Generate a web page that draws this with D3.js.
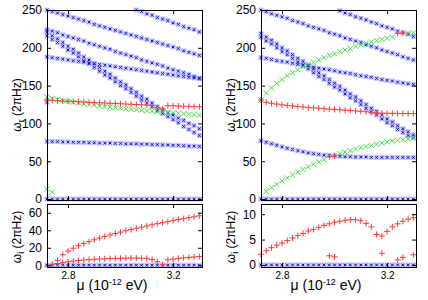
<!DOCTYPE html>
<html>
<head>
<meta charset="utf-8">
<script src="https://cdn.jsdelivr.net/npm/d3@7"></script>
<style>
  body { margin: 0; background: #fff; }
  svg { display: block; }
  text { font-family: "Liberation Sans", Arial, sans-serif; fill: #000; }
</style>
</head>
<body>
<div id="chart"></div>
<script>
// mu grid (10^-12 eV)
const mu = [2.72, 2.74, 2.76, 2.78, 2.80, 2.82, 2.84, 2.86, 2.88, 2.90, 2.92, 2.94, 2.96, 2.98, 3.00,
  3.02, 3.04, 3.06, 3.08, 3.10, 3.12, 3.14, 3.16, 3.18, 3.20, 3.22, 3.24, 3.26, 3.28, 3.30];
const _ = null;

// left panel, real part
const leftZero = [0,0,0,0,0,0,0,0,0,0,0,0,0,0,0,0,0,0,0,0,0,0,0,0,0,0,0,0,0,0];
const leftBlue1 = [250,248,246,244,242,240,238,236,234,231,229,227,225,223,221,219,217,215,213,211,209,207,205,203,201,199,196,194,192,190];
const leftBlue2 = [_,_,_,_,_,_,_,_,_,_,_,_,_,_,_,_,_,250,248,245,243,240,238,236,233,231,228,226,224,221];
const leftBlue3 = [224,222,220,217,215,213,211,209,206,204,202,200,198,195,193,191,189,187,184,182,180,178,176,173,171,169,167,165,162,160];
const leftBlue4 = [221,216,212,207,202,198,193,188,184,179,174,169,165,160,155,151,146,141,136,132,127,122,118,114,111,107,104,100,97,93];
const leftBlue5 = [216,211,207,202,197,193,188,183,179,174,169,164,160,155,150,146,141,136,131,127,122,117,113,109,105,101,96,92,88,84];
const leftBlue6 = [188,187,186,185,184,183,182,181,180,179,178,177,176,175,174,173,172,171,170,169,168,167,166,165,164,163,162,161,160,159];
const leftBlue7 = [76,76,76,75.5,75.5,75,75,75,74.5,74.5,74,74,74,73.5,73.5,73,73,73,72.5,72.5,72,72,71.5,71.5,71,71,70.5,70,70,69.5];
const leftBlue8 = [128];
const leftRedRe = [131,130.5,130,129.7,129.3,129,128.6,128.3,128,127.6,127.3,127,126.6,126.3,126,125.6,125.3,125,124.6,124.2,123.5,121,119,123.5,123.3,123,122.8,122.5,122.3,122];
const leftGreenRe = [135,133,131.5,130,129,128,127,126,125,124,123,122.2,121.5,120.8,120,119.3,118.6,118,117.4,116.8,116.2,115.6,115,114.5,114,113.3,112.7,112,111.5,111];
const leftGreenLow = [13,9];

// left panel, imaginary part
const leftRedIm1 = [_,_,5.4,12,16.2,19.5,22.3,24.8,27,29.1,31.1,32.9,34.6,36.3,37.9,39.4,40.8,42.2,43.6,44.9,46.2,47.5,48.7,49.9,51,52.2,53.3,54.4,55.4,56.5];
const leftRedIm2 = [_,1,2,3,4,4.8,5.4,6,6.4,6.8,7.1,7.4,7.6,7.8,8,8.1,8.2,8.2,8.1,7.8,6.5,4,0.5,6.3,7,7.8,8.4,9,9.5,10];

// right panel, real part
const rightBlue1 = [250,248,245,243,241,239,236,234,232,229,227,225,223,220,218,216,213,211,209,207,204,202,200,197,195,193,191,188,186,184];
const rightBlue2 = [_,_,_,_,_,_,_,_,_,_,_,_,_,_,_,249,246,244,241,239,237,234,232,229,227,225,222,220,218,215];
const rightBlue3 = [187,186,184.5,183,182,181,179.5,178,177,176,174.5,173,172,171,169.5,168,167,166,164.5,163,162,161,159.5,158,157,156,154.5,153.5,152.5,151.5];
const rightBlue4 = [219,214,210,205,200,196,191,186,182,177,172,167,163,158,153,149,144,139,135,130,125,120,116,111,106,102,97,93,89,85];
const rightBlue5 = [214,209,205,200,195,191,186,181,177,172,167,162,158,153,148,144,139,134,130,125,120,115,111,106,101,97,92,88,84,81];
const rightBlue6 = [77,75,73,71,69,67,65.5,64,62.5,61,60,59,58,57.5,57,56.5,56,56,55.5,55.5,55.5,55,55,55,55,55,55,55,55,55];
const rightRedRe = [131,128,126.5,125.5,124.5,123.7,123,122.3,121.7,121,120.5,120,119.4,118.9,118.4,118,117.5,117,116.5,116,115.5,114.5,113.5,113.5,113.5,113.3,113.2,113.1,113,113];
const rightRedRe2 = [_,_,_,_,_,_,_,_,_,_,_,_,_,56,57,_,_,_,_,_,_,_,_,_,_,_,219,219.5];
const rightGreenRe = [131,140,147,153,158,163,167,171,175,178,181,184,187,190,192,195,197,199,202,204,206,208,209.5,211,212.5,214,_,_,219.5,220];
const rightGreenLow = [_,10,15,19.5,24,28,32,35.5,39,42.5,46,49,52,_,_,60,62,64,66,68,69.5,71,72.5,74,75.5,76.5,77.5,78.5,79.5,80.5];

// right panel, imaginary part
const rightRedIm1 = [2.1,2.8,3.4,3.9,4.3,4.8,5.3,5.8,6.2,6.7,7.0,7.4,7.8,8.1,8.4,8.6,8.8,8.9,8.9,8.7,8.2,7.5,6.0,5.7,6.6,7.5,8.1,8.6,9.0,9.3];
const rightRedIm2 = [_,_,_,_,_,_,_,_,_,_,_,_,_,1.8,1.6,_,_,_,_,_,_,_,_,2.3,_,_,1.0,1.5,_,2.0];

const reTicks = [0, 50, 100, 150, 200, 250];
const leftImTicks = [0, 20, 40, 60];
const rightImTicks = [0, 5, 10];
const muTicks = [2.8, 3.2];

const width = 428;
const height = 300;
const upper = { t: 10, b: 200 };
const lower = { t: 204, b: 267 };
const panels = [
  { l: 47, r: 202, labelX: 21, xlab: 112,
    re: { blue: [leftZero, leftBlue1, leftBlue2, leftBlue3, leftBlue4, leftBlue5, leftBlue6, leftBlue7, leftBlue8],
          green: [leftGreenRe, leftGreenLow], red: [leftRedRe] },
    im: { blue: [leftZero], red: [leftRedIm1, leftRedIm2], domain: [-2, 70], ticks: leftImTicks } },
  { l: 261, r: 416, labelX: 235, xlab: 326,
    re: { blue: [leftZero, rightBlue1, rightBlue2, rightBlue3, rightBlue4, rightBlue5, rightBlue6],
          green: [rightGreenRe, rightGreenLow], red: [rightRedRe, rightRedRe2] },
    im: { blue: [leftZero], red: [rightRedIm1, rightRedIm2], domain: [-0.4, 12], ticks: rightImTicks } }
];

const svg = d3.select("#chart").append("svg").attr("width", width).attr("height", height);

function points(series) {
  const out = [];
  series.forEach((s) => s.forEach((v, i) => { if (v != null && i < mu.length) out.push([mu[i], v]); }));
  return out;
}

function drawMarks(g, x, y, set) {
  const clip = (d) => y(d[1]) >= y.range()[1] - 0.5 && y(d[1]) <= y.range()[0] + 0.5;
  const blue = points(set.blue).filter(clip);
  g.selectAll(null).data(blue).enter().append("rect")
    .attr("x", (d) => x(d[0]) - 2.5).attr("y", (d) => y(d[1]) - 2.5)
    .attr("width", 5).attr("height", 5)
    .attr("fill", "#8f8fff").attr("fill-opacity", 0.5);
  g.selectAll(null).data(blue).enter().append("path")
    .attr("transform", (d) => `translate(${x(d[0])},${y(d[1])})`)
    .attr("d", "M-1.3,-1.3L1.3,1.3M-1.3,1.3L1.3,-1.3")
    .attr("stroke", "#1010d0").attr("stroke-width", 1);
  if (set.green) {
    g.selectAll(null).data(points(set.green).filter(clip)).enter().append("path")
      .attr("transform", (d) => `translate(${x(d[0])},${y(d[1])})`)
      .attr("d", "M-2.5,-2.5L2.5,2.5M-2.5,2.5L2.5,-2.5")
      .attr("stroke", "#3fe03f").attr("stroke-width", 1);
  }
  g.selectAll(null).data(points(set.red).filter(clip)).enter().append("path")
    .attr("transform", (d) => `translate(${x(d[0])},${y(d[1])})`)
    .attr("d", "M-3,0H3M0,-3V3")
    .attr("stroke", "#ff3a3a").attr("stroke-width", 1);
}

function frame(g, x, y, ticks, showX) {
  g.append("g").attr("transform", `translate(${x.range()[0]},0)`)
    .call(d3.axisLeft(y).tickValues(ticks).tickSize(-4).tickPadding(5))
    .call((a) => a.select(".domain").remove())
    .selectAll("text").style("font-size", "12px").style("font-family", "Liberation Sans, Arial, sans-serif");
  g.append("g").attr("transform", `translate(${x.range()[1]},0)`)
    .call(d3.axisRight(y).tickValues(ticks).tickSize(-4).tickFormat(""))
    .call((a) => a.select(".domain").remove());
  const xb = g.append("g").attr("transform", `translate(0,${y.range()[0]})`)
    .call(d3.axisBottom(x).tickValues(muTicks).tickSize(-4).tickPadding(5).tickFormat(showX ? d3.format(".1f") : ""))
    .call((a) => a.select(".domain").remove());
  xb.selectAll("text").style("font-size", "10px").style("font-family", "Liberation Sans, Arial, sans-serif");
  g.append("g").attr("transform", `translate(0,${y.range()[1]})`)
    .call(d3.axisTop(x).tickValues(muTicks).tickSize(-4).tickFormat(""))
    .call((a) => a.select(".domain").remove());
  g.append("rect")
    .attr("x", x.range()[0] + 0.5).attr("y", y.range()[1] + 0.5)
    .attr("width", x.range()[1] - x.range()[0]).attr("height", y.range()[0] - y.range()[1])
    .attr("fill", "none").attr("stroke", "#000").attr("stroke-width", 1);
}

function yLabel(g, xPos, yPos, sub) {
  const t = g.append("text")
    .attr("transform", `translate(${xPos},${yPos}) rotate(-90)`)
    .attr("text-anchor", "middle").style("font-size", "12px");
  t.append("tspan").text("ω");
  t.append("tspan").attr("dy", 3).style("font-size", "9px").text(sub);
  t.append("tspan").attr("dy", -3).text(" (2πHz)");
}

panels.forEach((p) => {
  const x = d3.scaleLinear().domain([2.72, 3.31]).range([p.l, p.r]);
  const yRe = d3.scaleLinear().domain([-1.3, 250]).range([upper.b, upper.t]);
  const yIm = d3.scaleLinear().domain(p.im.domain).range([lower.b, lower.t]);

  const g = svg.append("g");
  drawMarks(g.append("g"), x, yRe, p.re);
  drawMarks(g.append("g"), x, yIm, p.im);
  frame(g, x, yRe, reTicks, false);
  frame(g, x, yIm, p.im.ticks, true);

  yLabel(g, p.labelX, (upper.t + upper.b) / 2, "r");
  yLabel(g, p.labelX, 237, "i");

  const xl = g.append("text").attr("x", p.xlab).attr("y", 290)
    .attr("text-anchor", "middle").style("font-size", "14px");
  xl.append("tspan").text("μ (10");
  xl.append("tspan").attr("dy", -5).style("font-size", "9px").text("-12");
  xl.append("tspan").attr("dy", 5).text(" eV)");
});
</script>
</body>
</html>
